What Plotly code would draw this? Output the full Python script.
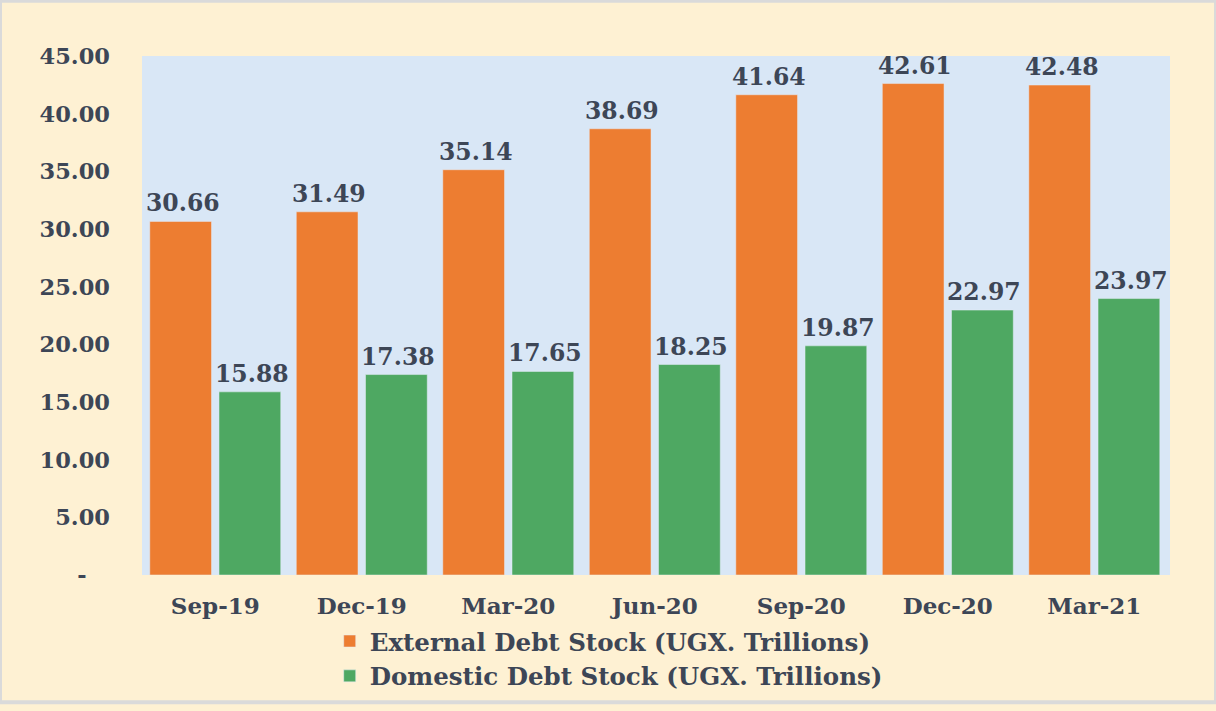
import plotly.graph_objects as go

categories = ["Sep-19", "Dec-19", "Mar-20", "Jun-20", "Sep-20", "Dec-20", "Mar-21"]
external = [30.66, 31.49, 35.14, 38.69, 41.64, 42.61, 42.48]
domestic = [15.88, 17.38, 17.65, 18.25, 19.87, 22.97, 23.97]
tick_vals = [0, 5, 10, 15, 20, 25, 30, 35, 40, 45]
tick_text = ["-\u00a0\u00a0\u00a0", "5.00", "10.00", "15.00", "20.00", "25.00", "30.00", "35.00", "40.00", "45.00"]

FONT = "DejaVu Serif"
TXT = "#3D4656"
BAR_SHIFT = 34.7  # px offset of each bar centre from its category centre

fig = go.Figure()
fig.add_trace(go.Bar(
    x=categories, y=external, name="External Debt Stock (UGX. Trillions)",
    marker=dict(color="#ED7D31"), legendgroup="a",
))
fig.add_trace(go.Bar(
    x=categories, y=domestic, name="Domestic Debt Stock (UGX. Trillions)",
    marker=dict(color="#4EA862"), legendgroup="b",
))

annotations = []
for series, shift in ((external, -BAR_SHIFT), (domestic, BAR_SHIFT)):
    for cat, v in zip(categories, series):
        annotations.append(dict(
            x=cat, y=v, xref="x", yref="y", text=f"{v:.2f}", showarrow=False,
            xshift=shift + 2, yshift=2, yanchor="bottom", xanchor="center",
            font=dict(family=FONT, size=23.5, color=TXT, weight="bold"),
        ))

fig.update_layout(
    width=1216, height=711,
    margin=dict(l=142, r=46, t=56, b=129),
    paper_bgcolor="#FEF1D3",
    plot_bgcolor="#D9E7F6",
    barmode="group", bargap=0.055, bargroupgap=0.108,
    font=dict(family=FONT, size=22, color=TXT),
    showlegend=True,
    legend=dict(
        orientation="v", x=0.454, xanchor="center", y=-0.084, yanchor="top",
        font=dict(family=FONT, size=24.5, color=TXT, weight="bold"),
        bgcolor="rgba(0,0,0,0)", traceorder="grouped", tracegroupgap=0,
    ),
    annotations=annotations,
    shapes=[dict(type="rect", xref="paper", yref="paper", x0=-142/1028, x1=1+46/1028,
                 y0=-129/526, y1=1+56/526, line=dict(color="#DADADA", width=4))],
)
fig.update_xaxes(showgrid=False, showline=False, ticks="", ticklabelstandoff=15,
                 tickfont=dict(family=FONT, size=23, color=TXT, weight="bold"))
fig.update_yaxes(range=[0, 45], tickvals=tick_vals, ticktext=tick_text, showgrid=False, zeroline=False,
                 showline=False, ticks="", ticklabelstandoff=31,
                 tickfont=dict(family=FONT, size=22.5, color=TXT, weight="bold"))

fig.write_html("out.html", config={"displayModeBar": False},
               post_script="document.body.style.margin='0';document.body.style.overflow='hidden';")
